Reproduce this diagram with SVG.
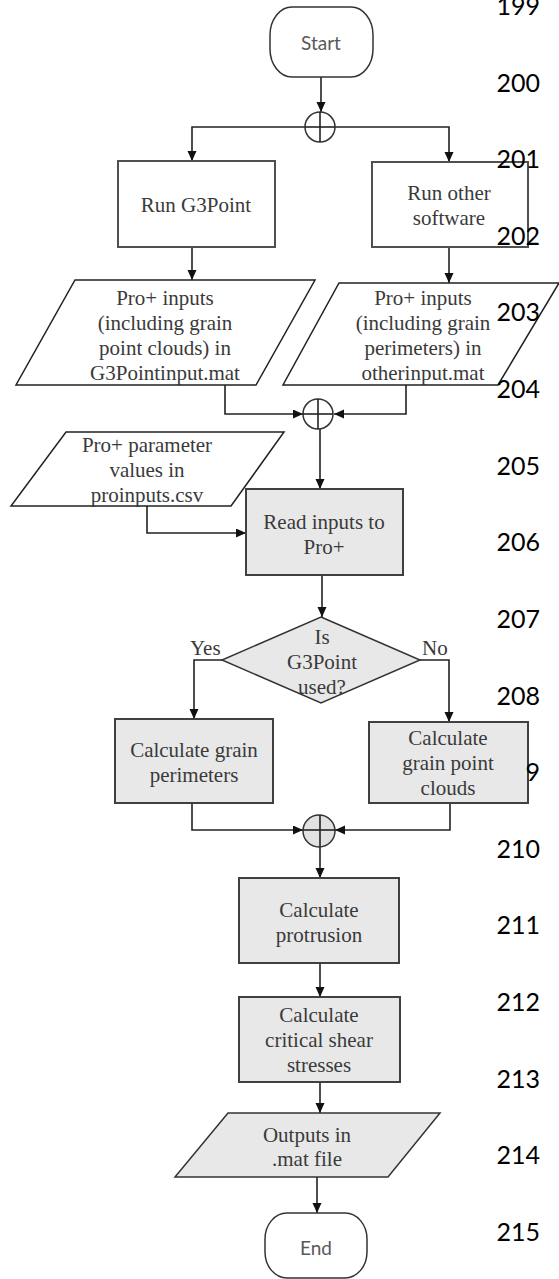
<svg xmlns="http://www.w3.org/2000/svg" width="559" height="1279" viewBox="0 0 559 1279">
<style>
.bg{fill:#ffffff}
.term{fill:#ffffff;stroke:#333;stroke-width:1.5}
.box{fill:#ffffff;stroke:#505050;stroke-width:2}
.gbox{fill:#e8e8e8;stroke:#404040;stroke-width:2}
.para{fill:#ffffff;stroke:#222;stroke-width:1.5}
.gpara{fill:#e8e8e8;stroke:#333;stroke-width:1.5}
.dia{fill:#e8e8e8;stroke:#333;stroke-width:1.5}
.circ{fill:#ffffff;stroke:#333;stroke-width:1.5}
.gcirc{fill:#e2e2e2;stroke:#333;stroke-width:1.5}
.con{fill:none;stroke:#222;stroke-width:1.6}
.arr{fill:none;stroke:#222;stroke-width:1.6;marker-end:url(#ah)}
.t{font-family:"Liberation Serif","Times New Roman",serif;font-size:21px;fill:#3a3a3a;text-anchor:middle}
.ts{font-family:"Liberation Serif","Times New Roman",serif;font-size:21px;fill:#3a3a3a}
.tc{font-family:Lato,"Liberation Sans",sans-serif;font-size:19px;fill:#595959;text-anchor:middle}
.ln{font-family:Lato,"Liberation Sans",sans-serif;font-size:25px;fill:#000;text-anchor:end}
</style>
<defs>
<marker id="ah" markerUnits="userSpaceOnUse" markerWidth="10" markerHeight="10" refX="10" refY="4.5" orient="auto">
<path d="M0,0 L10,4.5 L0,9 z" fill="#111"/>
</marker>
</defs>
<rect class="bg" x="0" y="0" width="559" height="1279"/>

<g id="connectors">
<line class="arr" x1="321" y1="77" x2="321" y2="112"/>
<polyline class="arr" points="320,127 192,127 192,161"/>
<polyline class="arr" points="320,127 449,127 449,162"/>
<line class="arr" x1="192" y1="247" x2="192" y2="280"/>
<line class="arr" x1="449" y1="247" x2="449" y2="283"/>
<polyline class="arr" points="225,385 225,414 303,414"/>
<polyline class="arr" points="406,385 406,414 334,414"/>
<line class="arr" x1="320" y1="429" x2="320" y2="489"/>
<polyline class="arr" points="147,506 147,533 246,533"/>
<line class="arr" x1="322" y1="575" x2="322" y2="617"/>
<polyline class="arr" points="222,660 194,660 194,719"/>
<polyline class="arr" points="420,660 449,660 449,722"/>
<polyline class="arr" points="192,803 192,830 303,830"/>
<polyline class="arr" points="450,803 450,830 335,830"/>
<line class="arr" x1="320" y1="846" x2="320" y2="878"/>
<line class="arr" x1="320" y1="963" x2="320" y2="997"/>
<line class="arr" x1="320" y1="1082" x2="320" y2="1113"/>
<line class="arr" x1="317" y1="1177" x2="317" y2="1213"/>
</g>

<g id="start">
<rect class="term" x="270" y="7" width="103" height="70" rx="22" ry="28"/>
<text class="tc" x="321" y="50">Start</text>
</g>

<g id="junction1">
<circle class="circ" cx="320" cy="127" r="15"/>
<line class="con" x1="305" y1="127" x2="335" y2="127"/>
<line class="con" x1="320" y1="112" x2="320" y2="142"/>
</g>

<g id="run-g3point">
<rect class="box" x="118" y="161" width="157" height="86"/>
<text class="t" x="196" y="212">Run G3Point</text>
</g>

<g id="run-other">
<rect class="box" x="372" y="162" width="156" height="85"/>
<text class="t" x="449" y="200">Run other</text>
<text class="t" x="449" y="225">software</text>
</g>

<g id="g3point-inputs">
<polygon class="para" points="75,280 315,280 256,385 16,385"/>
<text class="t" x="165" y="305">Pro+ inputs</text>
<text class="t" x="165" y="330">(including grain</text>
<text class="t" x="165" y="355">point clouds) in</text>
<text class="t" x="165" y="380">G3Pointinput.mat</text>
</g>

<g id="other-inputs">
<polygon class="para" points="339,283 559,283 498,385 283,385"/>
<text class="t" x="423" y="305">Pro+ inputs</text>
<text class="t" x="423" y="330">(including grain</text>
<text class="t" x="423" y="355">perimeters) in</text>
<text class="t" x="423" y="380">otherinput.mat</text>
</g>

<g id="junction2">
<circle class="circ" cx="318" cy="414" r="15"/>
<line class="con" x1="303" y1="414" x2="333" y2="414"/>
<line class="con" x1="318" y1="399" x2="318" y2="429"/>
</g>

<g id="parameters">
<polygon class="para" points="66,432 284,432 231,506 11,506"/>
<text class="t" x="147" y="452">Pro+ parameter</text>
<text class="t" x="147" y="477">values in</text>
<text class="t" x="147" y="502">proinputs.csv</text>
</g>

<g id="read-inputs">
<rect class="gbox" x="246" y="489" width="157" height="86"/>
<text class="t" x="324" y="529">Read inputs to</text>
<text class="t" x="324" y="554">Pro+</text>
</g>

<g id="decision">
<polygon class="dia" points="321,617 420,660 321,703 222,660"/>
<text class="t" x="322" y="644">Is</text>
<text class="t" x="322" y="669">G3Point</text>
<text class="t" x="322" y="694">used?</text>
<text class="ts" x="190" y="655">Yes</text>
<text class="ts" x="422" y="655">No</text>
</g>

<g id="calc-perimeters">
<rect class="gbox" x="115" y="719" width="158" height="84"/>
<text class="t" x="194" y="757">Calculate grain</text>
<text class="t" x="194" y="782">perimeters</text>
</g>

<g id="calc-clouds">
<rect class="gbox" x="369" y="722" width="159" height="81"/>
<text class="t" x="448" y="745">Calculate</text>
<text class="t" x="448" y="770">grain point</text>
<text class="t" x="448" y="795">clouds</text>
</g>

<g id="junction3">
<circle class="gcirc" cx="319" cy="831" r="16"/>
<line class="con" x1="303" y1="830" x2="335" y2="830"/>
<line class="con" x1="320" y1="815" x2="320" y2="847"/>
</g>

<g id="calc-protrusion">
<rect class="gbox" x="239" y="878" width="160" height="85"/>
<text class="t" x="319" y="917">Calculate</text>
<text class="t" x="319" y="942">protrusion</text>
</g>

<g id="calc-stresses">
<rect class="gbox" x="239" y="997" width="161" height="85"/>
<text class="t" x="319" y="1022">Calculate</text>
<text class="t" x="319" y="1047">critical shear</text>
<text class="t" x="319" y="1072">stresses</text>
</g>

<g id="outputs">
<polygon class="gpara" points="228,1113 440,1113 388,1177 175,1177"/>
<text class="t" x="307" y="1142">Outputs in</text>
<text class="t" x="307" y="1166">.mat file</text>
</g>

<g id="end">
<rect class="term" x="265" y="1213" width="102" height="65" rx="22" ry="26"/>
<text class="tc" x="316" y="1255">End</text>
</g>

<g id="line-numbers">
<text class="ln" x="540" y="15">199</text>
<text class="ln" x="540" y="92">200</text>
<text class="ln" x="540" y="168">201</text>
<text class="ln" x="540" y="245">202</text>
<text class="ln" x="540" y="321">203</text>
<text class="ln" x="540" y="398">204</text>
<text class="ln" x="540" y="475">205</text>
<text class="ln" x="540" y="551">206</text>
<text class="ln" x="540" y="628">207</text>
<text class="ln" x="540" y="705">208</text>
<text class="ln" x="540" y="781">9</text>
<text class="ln" x="540" y="858">210</text>
<text class="ln" x="540" y="934">211</text>
<text class="ln" x="540" y="1011">212</text>
<text class="ln" x="540" y="1088">213</text>
<text class="ln" x="540" y="1164">214</text>
<text class="ln" x="540" y="1241">215</text>
</g>
</svg>
